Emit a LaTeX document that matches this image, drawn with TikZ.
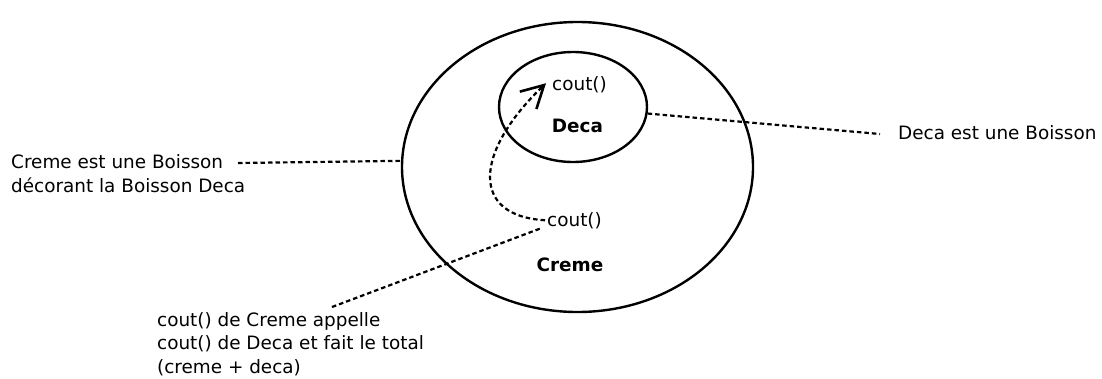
\documentclass[tikz,border=0pt]{standalone}
\usepackage{fontspec}
\setmainfont{DejaVu Sans}
\usetikzlibrary{shapes.geometric,arrows.meta}
\tikzset{
  txt/.style={inner sep=0pt,anchor=base west,align=left,font=\fontsize{18.4}{23.5}\selectfont},
  bold/.style={inner sep=0pt,anchor=base,font=\fontsize{18.4}{22}\selectfont\bfseries},
  oval/.style={ellipse,draw,line width=2.4pt,inner sep=0pt},
  dotline/.style={line width=2.2pt,dash pattern=on 4.5pt off 3pt}
}
\begin{document}
\begin{tikzpicture}[x=1pt,y=-1pt]
  \useasboundingbox (0,0) rectangle (1102,378);
  {\fontsize{18.4}{23.5}\selectfont

  % Drawing ellipse creme
  \node [oval,minimum width=351pt,minimum height=290pt] (creme) at (577.5,167) {};

  % Drawing ellipse deca
  \node [oval,minimum width=148pt,minimum height=110pt] (deca) at (573,107) {};

  % Marking point {cout} of deca and creme
  \node [txt] (coutdeca) at (552,90) {cout()};
  \node [txt] (coutcreme) at (547,226) {cout()};

  % Marking names
  \node [bold] (decaname) at (577.5,132) {Deca};
  \node [bold] (cremename) at (570,271) {Creme};

  % Marking labels (base is the last line)
  \node [txt] (cremelbl) at (11,192) {Creme est une Boisson\\d\'ecorant la Boisson Deca};
  \node [txt] (decalbl) at (898,139) {Deca est une Boisson};
  \node [txt] (coutlbl) at (157,373) {cout() de Creme appelle\\cout() de Deca et fait le total\\(creme + deca)};

  % Free ends of the segments
  \coordinate (cremeend) at (238,163);
  \coordinate (decaend) at (880,134);
  \coordinate (coutend) at (332,307);

  % Drawing segment cremelbl creme
  \draw [dotline] (cremeend) -- (creme.178);

  % Drawing segment deca decalbl
  \draw [dotline] (deca.-5) -- (decaend);

  % Drawing segment coutlbl coutcreme
  \draw [dotline] (coutend) -- ([xshift=-7pt]coutcreme.south west);

  % Drawing arrow coutcreme coutdeca
  \draw [dotline,-{Straight Barb[length=22pt,width=24pt,line width=2.6pt]}]
    ([xshift=-2pt]coutcreme.west) .. controls (470,216) and (474,152) .. ([xshift=-6pt,yshift=1pt]coutdeca.west);
  }
\end{tikzpicture}
\end{document}
